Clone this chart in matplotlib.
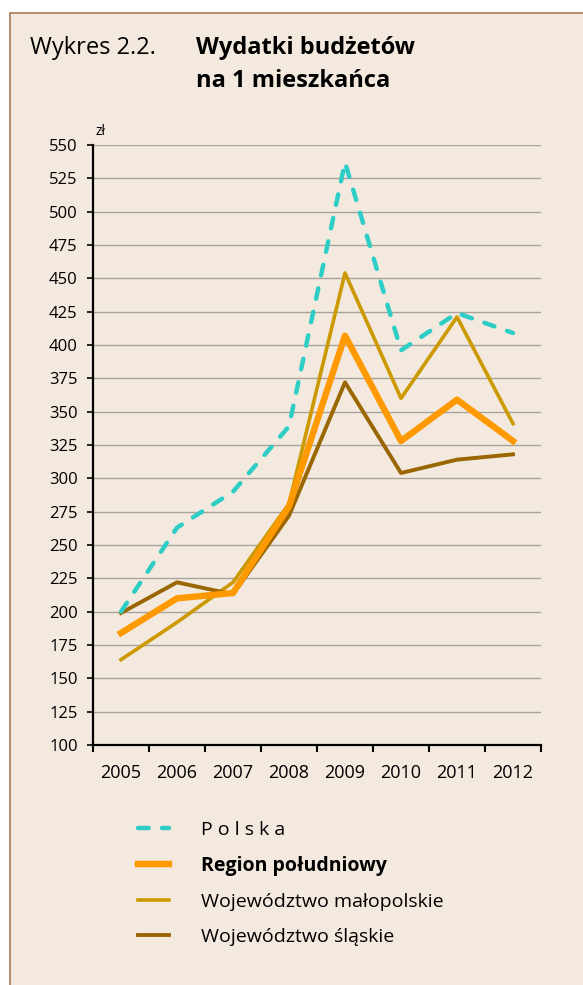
import matplotlib.pyplot as plt
from matplotlib.patches import Rectangle

plt.rcParams['font.family'] = ['Open Sans', 'DejaVu Sans']

years = ["2005", "2006", "2007", "2008", "2009", "2010", "2011", "2012"]
polska = [200, 263, 290, 339, 537, 396, 424, 409]
region = [184, 210, 214, 279, 407, 328, 359, 328]
malopolskie = [164, 192, 222, 281, 454, 360, 421, 341]
slaskie = [199, 222, 213, 272, 372, 304, 314, 318]
labels = ["P o l s k a", "Region południowy", "Województwo małopolskie", "Województwo śląskie"]
yticks = list(range(100, 551, 25))

bg = "#F3E9DF"
fig = plt.figure(figsize=(5.83, 9.85), dpi=100)
fig.patch.set_facecolor("white")
# beige panel with brown border
fig.patches.append(Rectangle((10 / 583, -0.1), 1.2, 1 - 13 / 985 + 0.1, transform=fig.transFigure,
                             facecolor=bg, edgecolor="#A47A55", linewidth=1.2, zorder=-10))

ax = fig.add_axes([93 / 583, 1 - 745 / 985, (541 - 93) / 583, 600 / 985])
ax.set_facecolor(bg)

x = list(range(len(years)))
ax.plot(x, polska, color="#2ECDC6", lw=3.2, dashes=(2.4, 3.0), dash_capstyle="round", label=labels[0], zorder=5)
ax.plot(x, malopolskie, color="#CC9900", lw=2.6, label=labels[2], zorder=3)
ax.plot(x, slaskie, color="#996600", lw=2.8, label=labels[3], zorder=3)
ax.plot(x, region, color="#FF9900", lw=4.6, label=labels[1], zorder=4)

ax.set_xlim(-0.5, 7.5)
ax.set_ylim(100, 550)
ax.set_yticks(yticks)
ax.grid(axis="y", color="#A8A29C", lw=1.0)
ax.set_axisbelow(True)
ax.set_xticks(x)
ax.set_xticklabels(years, fontsize=13)
ax.set_xticks([i + 0.5 for i in range(-1, 8)], minor=True)
ax.tick_params(axis="x", which="major", length=0, pad=14)
ax.tick_params(axis="x", which="minor", length=5, width=1.5, direction="out")
ax.tick_params(axis="y", length=4, width=1.2, pad=7, labelsize=12)
for s in ["top", "right"]:
    ax.spines[s].set_visible(False)
for s in ["left", "bottom"]:
    ax.spines[s].set_linewidth(1.6)

fig.text(96 / 583, 1 - 135 / 985, "zł", fontsize=10, va="baseline")
fig.text(30 / 583, 1 - 54 / 985, "Wykres 2.2.", fontsize=17, va="baseline")
fig.text(196 / 583, 1 - 54 / 985, "Wydatki budżetów", fontsize=17, fontweight="bold", va="baseline")
fig.text(196 / 583, 1 - 87 / 985, "na 1 mieszkańca", fontsize=17, fontweight="bold", va="baseline")

h = {l.get_label(): l for l in ax.get_lines()}
handles = [h[labels[0]], h[labels[1]], h[labels[2]], h[labels[3]]]
leg = fig.legend(handles, labels, loc="upper left", bbox_to_anchor=(128 / 583, 1 - 811 / 985),
                 frameon=False, fontsize=14, handlelength=1.6, handletextpad=1.65,
                 labelspacing=0.88, borderpad=0)
leg.get_texts()[1].set_fontweight("bold")

fig.savefig("out.png", dpi=100, facecolor=fig.get_facecolor())
